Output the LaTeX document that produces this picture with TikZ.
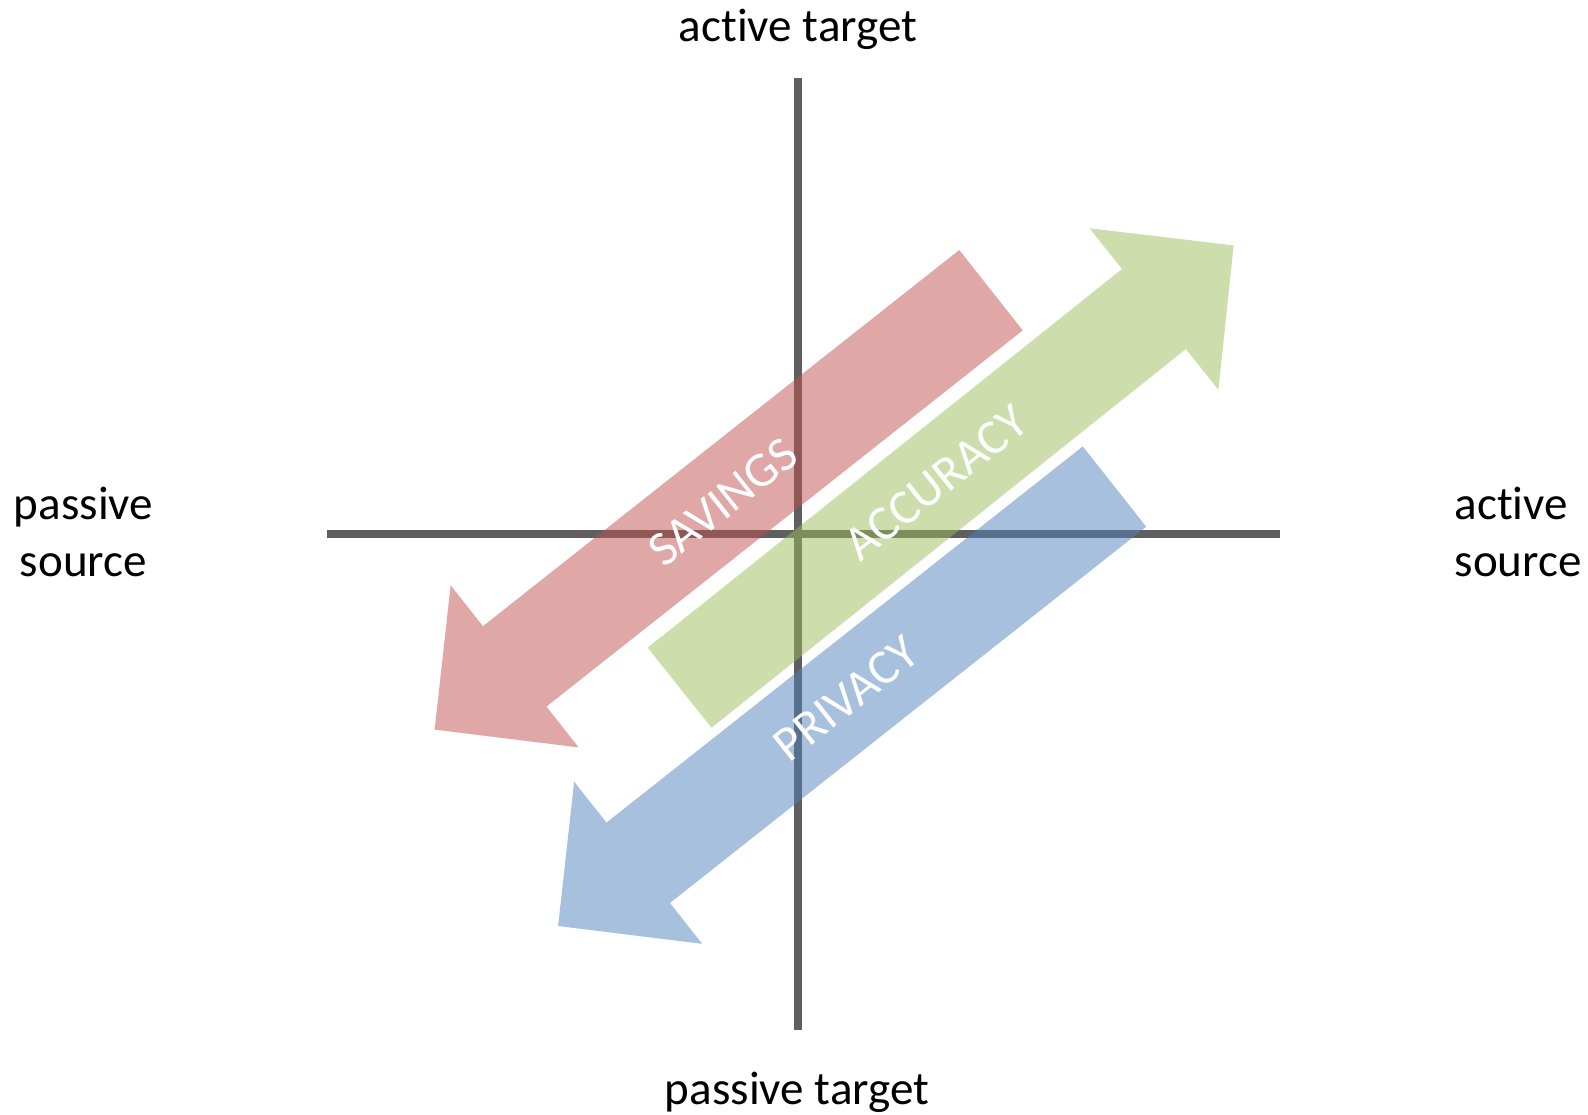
\documentclass[tikz,border=0pt]{standalone}
\usepackage{fontspec}
\setmainfont{Carlito}[Ligatures=NoCommon]
\usepackage{tikz}
\usetikzlibrary{positioning}
\usetikzlibrary{calc}
\definecolor{axisgray}{RGB}{95,95,95}
\definecolor{savingsred}{RGB}{192,80,77}
\definecolor{accgreen}{RGB}{155,187,89}
\definecolor{privblue}{RGB}{79,129,189}
\tikzstyle{axis}=[line width=2.2pt, draw=axisgray]
\tikzstyle{fatarrow}=[fill opacity=0.5]
\tikzstyle{band}=[text=white, inner sep=0pt, font=\fontsize{14}{17}\selectfont]
\tikzstyle{pole}=[inner sep=0pt, font=\fontsize{13.4}{16.3}\selectfont]

\begin{document}
\begin{tikzpicture}

   \useasboundingbox (0,0) rectangle (15.88,11.14);

%  the two axes
   \coordinate (north) at (7.98,10.36);
   \coordinate (south) at (7.98,0.84);
   \coordinate (west) at (3.27,5.80);
   \coordinate (east) at (12.80,5.80);
   \draw[axis] (north) -- (south);
   \draw[axis] (west) -- (east);

%  the three fat arrows: tail x / tail y / angle / colour / word / where / name
    \foreach \tx/\ty/\ang/\tone/\word/\at/\name in {9.910/8.238/218.3/savingsred/SAVINGS/3.42/savings, 6.796/4.263/38.6/accgreen/ACCURACY/3.28/accuracy, 11.145/6.274/218.3/privblue/PRIVACY/3.42/privacy}
    {
      \begin{scope}[shift={(\tx,\ty)}, rotate=\ang]
        \fill[fatarrow, fill=\tone] (0,-0.512) -- (6.07,-0.512) -- (6.07,-1.033) -- (7.09,0) -- (6.07,1.033) -- (6.07,0.512) -- (0,0.512) -- cycle;
        \node[band, rotate=38.4] (\name) at (\at,0) {\word};
      \end{scope}
    }

%  the four poles (base = last line)
  \node[pole, anchor=base] (activetarget) at (7.98,10.72) {active target};
  \node[pole, anchor=base] (passivetarget) at (7.97,0.10) {passive target};
  \node[pole, anchor=base, align=center] (passivesource) at (0.835,5.37) {passive\\source};
  \node[pole, anchor=base west, align=left] (activesource) at (14.54,5.37) {active\\source};

\end{tikzpicture}
\end{document}
